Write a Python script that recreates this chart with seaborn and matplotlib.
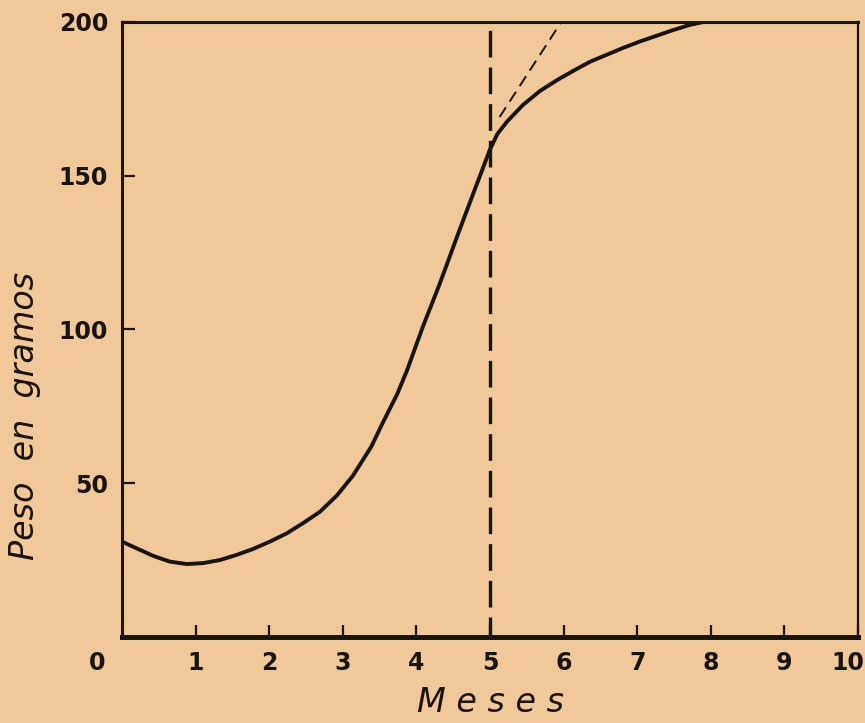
import matplotlib
matplotlib.use("Agg")
import matplotlib.pyplot as plt
from matplotlib.transforms import ScaledTranslation
import seaborn as sns

# Curva de crecimiento
meses = [0.0, 0.2, 0.43, 0.65, 0.88, 1.10, 1.33, 1.56, 1.78, 2.01, 2.24,
         2.46, 2.69, 2.92, 3.14, 3.39, 3.53, 3.74, 3.87, 4.09, 4.32, 4.55,
         4.77, 5.0, 5.1, 5.23, 5.45, 5.68, 5.91, 6.13, 6.36, 6.59, 6.81,
         7.04, 7.26, 7.49, 7.72, 7.92]
peso = [31, 28.8, 26.3, 24.5, 23.7, 24, 25, 26.7, 28.6, 31, 33.7,
        37, 40.7, 46, 52.5, 62, 69, 79, 86.5, 101, 115, 130,
        144, 158.5, 163.5, 167.5, 173, 177.5, 181, 184, 187, 189.3, 191.5,
        193.6, 195.4, 197.3, 199, 200]

# tangente punteada y linea vertical en el mes 5
tangente_x = [5.13, 5.97]
tangente_y = [169, 200]
corte_mes = 5

x_ticks = [1, 2, 3, 4, 5, 6, 7, 8, 9, 10]
y_ticks = [50, 100, 150, 200]

paper = "#f1c899"
ink = "#1a1410"

sns.set_theme(style="ticks")
plt.rcParams["font.family"] = ["DejaVu Sans"]

fig = plt.figure(figsize=(8.65, 7.23), dpi=100, facecolor=paper)
ax = fig.add_axes([0.141, 0.119, 0.851, 0.851])
ax.set_facecolor(paper)

sns.lineplot(x=meses, y=peso, ax=ax, color=ink, linewidth=2.8, sort=False)
sns.lineplot(x=tangente_x, y=tangente_y, ax=ax, color=ink, linewidth=1.4,
             linestyle=(0, (6, 3.5)))
ax.axvline(corte_mes, ymin=0, ymax=1, color=ink, linewidth=2.4,
           linestyle=(2, (8, 3)))

ax.set_xlim(0, 10)
ax.set_ylim(0, 200)

for side, lw in [("left", 2.2), ("bottom", 3.6), ("top", 2.2), ("right", 1.6)]:
    ax.spines[side].set_visible(True)
    ax.spines[side].set_linewidth(lw)
    ax.spines[side].set_color(ink)

ax.set_xticks(x_ticks)
ax.set_xticklabels([str(t) for t in x_ticks])
ax.set_yticks(y_ticks)
ax.set_yticklabels([str(t) for t in y_ticks])
ax.tick_params(axis="both", direction="in", length=9, width=1.6, color=ink,
               labelsize=17, labelcolor=ink, pad=10)
for lab in ax.get_xticklabels() + ax.get_yticklabels():
    lab.set_fontweight("bold")

# el "10" queda pegado al borde derecho
last = ax.get_xticklabels()[-1]
last.set_horizontalalignment("right")
last.set_transform(last.get_transform() + ScaledTranslation(0.06, 0, fig.dpi_scale_trans))

ax.text(-0.34, -8.5, "0", ha="center", va="center", fontsize=17,
        fontweight="bold", color=ink, clip_on=False)

ax.set_xlabel("M e s e s", fontsize=24, style="italic", color=ink, labelpad=8)
ax.set_ylabel("Peso  en  gramos", fontsize=24, style="italic", color=ink,
              labelpad=10)
ax.yaxis.set_label_coords(-0.11, 0.36)

fig.savefig("out.png", dpi=100, facecolor=paper)
